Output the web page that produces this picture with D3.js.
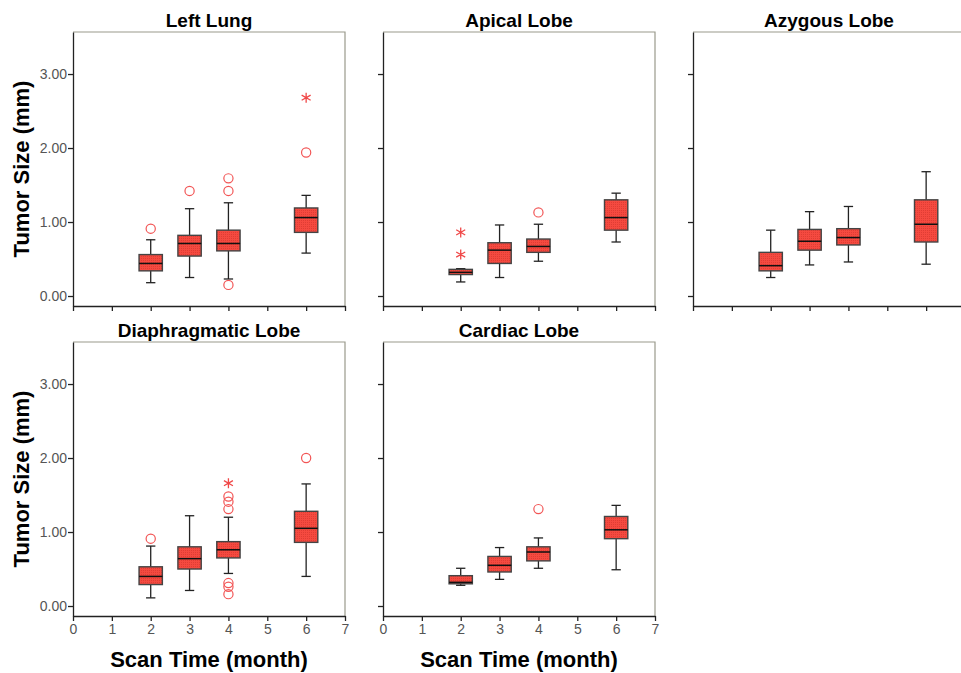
<!DOCTYPE html>
<html>
<head>
<meta charset="utf-8">
<script src="https://cdn.jsdelivr.net/npm/d3@7"></script>
<style>
    body { margin: 0; background: #fff; }
    svg { display: block; font-family: "Liberation Sans", Arial, sans-serif; }
</style>
</head>
<body>
<svg class="chart"></svg>
<script>
// ---- data ----
var panelTitles = ['Left Lung', 'Apical Lobe', 'Azygous Lobe', 'Diaphragmatic Lobe', 'Cardiac Lobe'];
var scanMonths = [2, 3, 4, 6];
var monthTicks = [0, 1, 2, 3, 4, 5, 6, 7];
var sizeTicks = [0, 1, 2, 3];

// [whisker low, Q1, median, Q3, whisker high] per month
var leftLungBoxes = [[0.18, 0.34, 0.44, 0.56, 0.76], [0.25, 0.54, 0.71, 0.82, 1.18], [0.23, 0.61, 0.71, 0.89, 1.26], [0.58, 0.86, 1.06, 1.19, 1.36]];
var apicalBoxes = [[0.19, 0.29, 0.32, 0.36, 0.37], [0.25, 0.44, 0.62, 0.72, 0.96], [0.47, 0.59, 0.67, 0.77, 0.97], [0.73, 0.89, 1.06, 1.30, 1.39]];
var azygousBoxes = [[0.25, 0.34, 0.41, 0.59, 0.89], [0.42, 0.62, 0.74, 0.90, 1.14], [0.46, 0.69, 0.79, 0.91, 1.21], [0.43, 0.73, 0.97, 1.30, 1.68]];
var diaphragmaticBoxes = [[0.11, 0.29, 0.40, 0.53, 0.81], [0.21, 0.50, 0.64, 0.80, 1.22], [0.44, 0.65, 0.76, 0.87, 1.20], [0.40, 0.86, 1.05, 1.28, 1.65]];
var cardiacBoxes = [[0.28, 0.30, 0.32, 0.41, 0.51], [0.36, 0.46, 0.55, 0.67, 0.79], [0.51, 0.61, 0.73, 0.80, 0.92], [0.49, 0.91, 1.03, 1.21, 1.36]];

// outliers: [month, value, kind] kind 'o' = circle, '*' = extreme
var leftLungOut = [[2, 0.91, 'o'], [3, 1.42, 'o'], [4, 1.59, 'o'], [4, 1.42, 'o'], [4, 0.15, 'o'], [6, 1.94, 'o'], [6, 2.68, '*']];
var apicalOut = [[2, 0.86, '*'], [2, 0.56, '*'], [4, 1.13, 'o']];
var azygousOut = [];
var diaphragmaticOut = [[2, 0.91, 'o'], [4, 1.66, '*'], [4, 1.48, 'o'], [4, 1.41, 'o'], [4, 1.31, 'o'], [4, 0.31, 'o'], [4, 0.26, 'o'], [4, 0.16, 'o'], [6, 2.00, 'o']];
var cardiacOut = [[4, 1.31, 'o']];

var panelBoxes = [leftLungBoxes, apicalBoxes, azygousBoxes, diaphragmaticBoxes, cardiacBoxes];
var panelOutliers = [leftLungOut, apicalOut, azygousOut, diaphragmaticOut, cardiacOut];

// ---- layout ----
var config = {
    width: 961,
    height: 673,
    colLeft: [73, 383, 693],
    rowTop: [32, 342],
    plotW: 272,
    plotH: 274,
    boxHalf: 0.3,
    capHalf: 0.12
};

var svg = d3.select('.chart')
    .attr('width', config.width)
    .attr('height', config.height);

var defs = svg.append('defs');
var pat = defs.append('pattern')
    .attr('id', 'dither')
    .attr('width', 2).attr('height', 2)
    .attr('patternUnits', 'userSpaceOnUse');
pat.append('rect').attr('width', 2).attr('height', 2).attr('fill', '#f54a40');
pat.append('rect').attr('width', 1).attr('height', 1).attr('fill', '#e03d34');

var x = d3.scaleLinear().domain([0, 7]).range([0, config.plotW]);
var y = d3.scaleLinear().domain([-0.135, 3.568]).range([config.plotH, 0]);

panelTitles.forEach(function(title, i) {
    var col = i % 3, row = Math.floor(i / 3);
    var g = svg.append('g')
        .attr('transform', 'translate(' + config.colLeft[col] + ',' + config.rowTop[row] + ')');

    // frame (top and right in light grey)
    g.append('path')
        .attr('d', 'M0,0H' + config.plotW + 'V' + config.plotH)
        .attr('fill', 'none')
        .attr('stroke', '#9a9a8c')
        .attr('stroke-width', 1.2);

    var yAxis = d3.axisLeft(y).tickValues(sizeTicks).tickSize(5).tickSizeOuter(0)
        .tickFormat(col === 0 ? d3.format('.2f') : function() { return ''; });
    var xAxis = d3.axisBottom(x).tickValues(monthTicks).tickSize(5).tickSizeOuter(0)
        .tickFormat(row === 1 ? d3.format('d') : function() { return ''; });

    var ya = g.append('g').call(yAxis);
    var xa = g.append('g').attr('transform', 'translate(0,' + config.plotH + ')').call(xAxis);
    [ya, xa].forEach(function(a) {
        a.select('.domain').attr('stroke', '#222').attr('stroke-width', 1.3);
        a.selectAll('.tick line').attr('stroke', '#222').attr('stroke-width', 1.3);
        a.selectAll('.tick text')
            .attr('fill', '#555')
            .style('font-size', '14px')
            .style('font-family', '"Liberation Sans", Arial, sans-serif');
    });
    ya.selectAll('.tick text').attr('x', -6);
    xa.selectAll('.tick text').attr('y', 8);

    g.append('text')
        .attr('x', config.plotW / 2)
        .attr('y', -5)
        .attr('text-anchor', 'middle')
        .style('font-size', '19px')
        .style('font-weight', 'bold')
        .text(title);

    // boxes
    var boxes = g.selectAll('g.box')
        .data(panelBoxes[i].map(function(s, k) { return { m: scanMonths[k], s: s }; }))
        .enter().append('g').attr('class', 'box');

    boxes.append('line')
        .attr('x1', function(d) { return x(d.m); })
        .attr('x2', function(d) { return x(d.m); })
        .attr('y1', function(d) { return y(d.s[0]); })
        .attr('y2', function(d) { return y(d.s[4]); })
        .attr('stroke', '#222').attr('stroke-width', 1.3);

    [0, 4].forEach(function(k) {
        boxes.append('line')
            .attr('x1', function(d) { return x(d.m - config.capHalf); })
            .attr('x2', function(d) { return x(d.m + config.capHalf); })
            .attr('y1', function(d) { return y(d.s[k]); })
            .attr('y2', function(d) { return y(d.s[k]); })
            .attr('stroke', '#222').attr('stroke-width', 1.3);
    });

    boxes.append('rect')
        .attr('x', function(d) { return x(d.m - config.boxHalf); })
        .attr('width', x(2 * config.boxHalf) - x(0))
        .attr('y', function(d) { return y(d.s[3]); })
        .attr('height', function(d) { return y(d.s[1]) - y(d.s[3]); })
        .attr('fill', 'url(#dither)')
        .attr('stroke', '#444').attr('stroke-width', 1.4);

    boxes.append('line')
        .attr('x1', function(d) { return x(d.m - config.boxHalf); })
        .attr('x2', function(d) { return x(d.m + config.boxHalf); })
        .attr('y1', function(d) { return y(d.s[2]); })
        .attr('y2', function(d) { return y(d.s[2]); })
        .attr('stroke', '#111').attr('stroke-width', 1.5);

    // outliers
    var outs = panelOutliers[i];
    g.selectAll('circle.out')
        .data(outs.filter(function(d) { return d[2] === 'o'; }))
        .enter().append('circle').attr('class', 'out')
        .attr('cx', function(d) { return x(d[0]); })
        .attr('cy', function(d) { return y(d[1]); })
        .attr('r', 4.6)
        .attr('fill', 'none')
        .attr('stroke', '#f25555').attr('stroke-width', 1.2);

    g.selectAll('path.star')
        .data(outs.filter(function(d) { return d[2] === '*'; }))
        .enter().append('path').attr('class', 'star')
        .attr('transform', function(d) { return 'translate(' + x(d[0]) + ',' + y(d[1]) + ')'; })
        .attr('d', 'M0,-5V5M-4.5,-2.6L4.5,2.6M-4.5,2.6L4.5,-2.6')
        .attr('fill', 'none')
        .attr('stroke', '#f04848').attr('stroke-width', 1.3);

    // axis titles on the left column / bottom row
    if (col === 0) {
        g.append('text')
            .attr('transform', 'translate(-44,' + (config.plotH / 2) + ') rotate(-90)')
            .attr('text-anchor', 'middle')
            .style('font-size', '22px')
            .style('font-weight', 'bold')
            .text('Tumor Size (mm)');
    }
    if (row === 1) {
        g.append('text')
            .attr('x', config.plotW / 2)
            .attr('y', config.plotH + 51)
            .attr('text-anchor', 'middle')
            .style('font-size', '22px')
            .style('font-weight', 'bold')
            .text('Scan Time (month)');
    }
});
</script>
</body>
</html>
